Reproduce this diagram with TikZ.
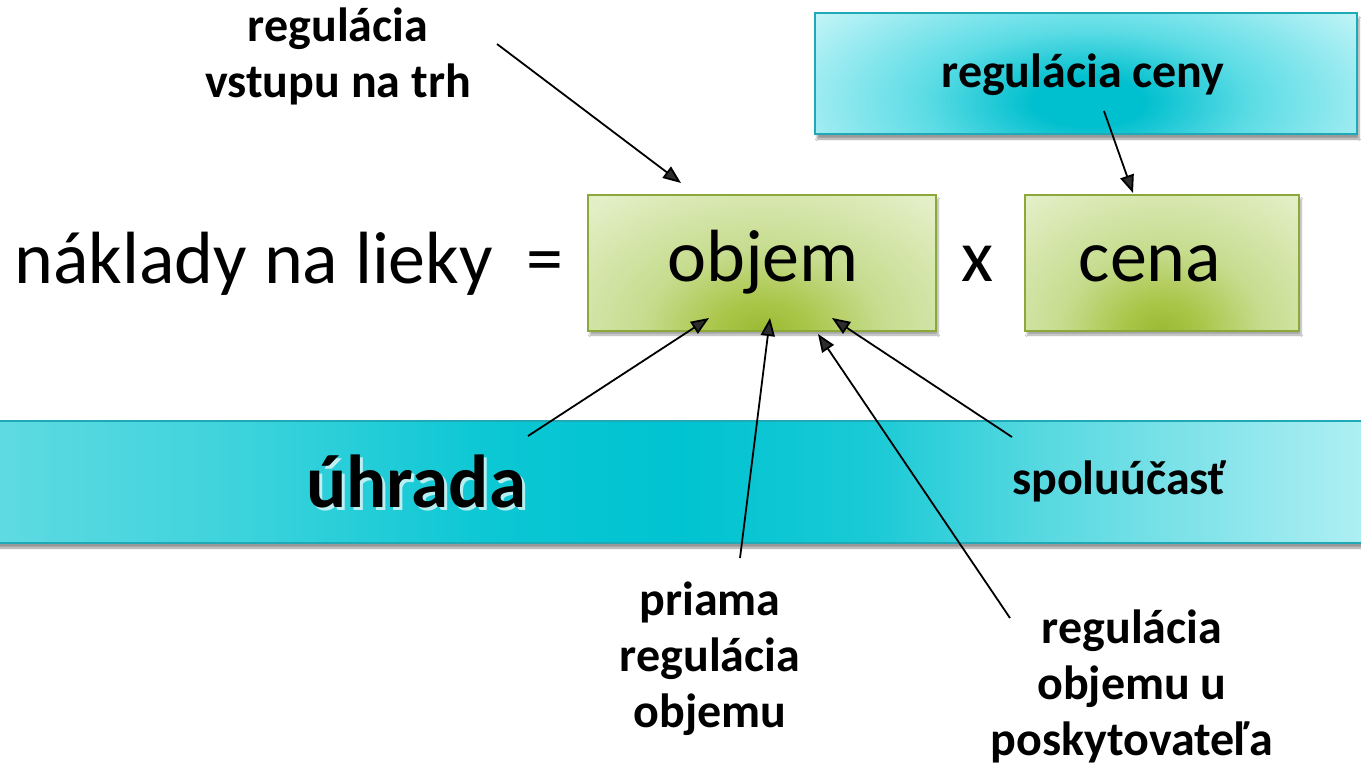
\documentclass[tikz,border=0pt]{standalone}
\usepackage{fontspec}
\setmainfont{Carlito}
\usetikzlibrary{arrows.meta,shadows.blur}
\definecolor{greenD}{HTML}{99B930}
\definecolor{greenD2}{HTML}{ABC74C}
\definecolor{greenM}{HTML}{C6DC8E}
\definecolor{greenL}{HTML}{E3EFC7}
\definecolor{greenB}{HTML}{8DA83A}
\definecolor{tealD}{HTML}{00BFCE}
\definecolor{tealM}{HTML}{5CDCE5}
\definecolor{tealL}{HTML}{C4F5F8}
\definecolor{tealB}{HTML}{1FA9B6}
\pgfdeclareradialshading{greenrad}{\pgfpoint{0bp}{0bp}}{color(0bp)=(greenD); color(5bp)=(greenD2); color(12bp)=(greenM); color(25bp)=(greenL); color(50bp)=(greenL)}
\pgfdeclareradialshading{tealrad}{\pgfpoint{0bp}{0bp}}{color(0bp)=(tealD); color(4bp)=(tealD); color(12bp)=(tealM); color(25bp)=(tealL); color(50bp)=(tealL)}
\pgfdeclarehorizontalshading{bandshade}{100bp}{color(0bp)=(rgb,255:red,95;green,218;blue,226); color(25bp)=(rgb,255:red,95;green,218;blue,226); color(34bp)=(rgb,255:red,60;green,211;blue,220); color(43bp)=(rgb,255:red,12;green,199;blue,212); color(50bp)=(rgb,255:red,0;green,195;blue,209); color(57bp)=(rgb,255:red,26;green,202;blue,214); color(63bp)=(rgb,255:red,85;green,216;blue,224); color(75bp)=(rgb,255:red,174;green,239;blue,243); color(100bp)=(rgb,255:red,174;green,239;blue,243)}
\tikzset{
  greenfill/.style={fill=greenL,
    blur shadow={shadow xshift=2pt, shadow yshift=-4pt, shadow blur steps=6, shadow opacity=35}},
  greenborder/.style={draw=greenB, line width=2pt},
  tealfill/.style={fill=tealL,
    blur shadow={shadow xshift=2pt, shadow yshift=-5pt, shadow blur steps=6, shadow opacity=40}},
  tealborder/.style={draw=tealB, line width=2pt},
  bigtxt/.style={font=\fontsize{74}{80}\selectfont, inner sep=0pt, anchor=base},
  lbl/.style={font=\fontsize{48}{56}\selectfont\bfseries, inner sep=0pt, align=center},
  conn/.style={draw, line width=1.8pt, -{Triangle[length=18pt,width=14pt]}}
}
\begin{document}
\begin{tikzpicture}[x=1pt,y=-1pt]
\useasboundingbox (0,0) rectangle (1361,766);
\fill[white] (0,0) rectangle (1361,766);
% band
\path[draw=tealB, line width=2pt, shading=bandshade,
  blur shadow={shadow xshift=0pt, shadow yshift=-5pt, shadow blur steps=6, shadow opacity=40}]
  (-3,421) rectangle (1364,543);
\node (bandtxtsh) [font=\fontsize{75}{80}\selectfont\bfseries, text=white, opacity=0.7, inner sep=0pt, anchor=base] at (419,510) {úhrada};
\node (uhrada) [font=\fontsize{75}{80}\selectfont\bfseries, inner sep=0pt, anchor=base] at (416,507) {úhrada};
\node (spol) [lbl, anchor=base] at (1119,494) {spoluúčasť};
% top teal box
\path[tealfill] (815,13) rectangle (1357,134);
\begin{scope}
  \clip (815,13) rectangle (1357,134);
  \shade[shading=tealrad] (1088,102) ellipse [x radius=340, y radius=150];
\end{scope}
\path[tealborder] (815,13) rectangle (1357,134);
\node (cenyreg) [lbl, anchor=base] at (1083,87) {regulácia ceny};
% green boxes
\path[greenfill] (588,195) rectangle (936,331);
\begin{scope}
  \clip (588,195) rectangle (936,331);
  \shade[shading=greenrad] (762,334) ellipse [x radius=250, y radius=175];
\end{scope}
\path[greenborder] (588,195) rectangle (936,331);
\path[greenfill] (1025,195) rectangle (1299,331);
\begin{scope}
  \clip (1025,195) rectangle (1299,331);
  \shade[shading=greenrad] (1162,334) ellipse [x radius=210, y radius=175];
\end{scope}
\path[greenborder] (1025,195) rectangle (1299,331);
\node (objem) [bigtxt] at (763,281) {objem};
\node (cena) [bigtxt] at (1150,281) {cena};
\node (naklady) [bigtxt] at (289,283) {náklady na lieky\ \ =};
\node (krat) [bigtxt] at (978,281) {x};
% labels
\node (vstup) [lbl] at (338,56) {regulácia\\vstupu na trh};
\node (priama) [lbl] at (710,659) {priama\\regulácia\\objemu};
\node (posk) [lbl] at (1132,686) {regulácia\\objemu u\\poskytovateľa};
% connector coordinates
\coordinate (s1) at (497,44);   \coordinate (t1) at (681,183);
\coordinate (s2) at (1104,111); \coordinate (t2) at (1133,193);
\coordinate (s3) at (528,436);  \coordinate (t3) at (709,318);
\coordinate (s4) at (740,558);  \coordinate (t4) at (770,318);
\coordinate (s5) at (1010,618); \coordinate (t5) at (818,334);
\coordinate (s6) at (1012,437); \coordinate (t6) at (832,318);
\draw[conn] (s1) -- (t1);
\draw[conn] (s2) -- (t2);
\draw[conn] (s3) -- (t3);
\draw[conn] (s4) -- (t4);
\draw[conn] (s5) -- (t5);
\draw[conn] (s6) -- (t6);
\end{tikzpicture}
\end{document}
